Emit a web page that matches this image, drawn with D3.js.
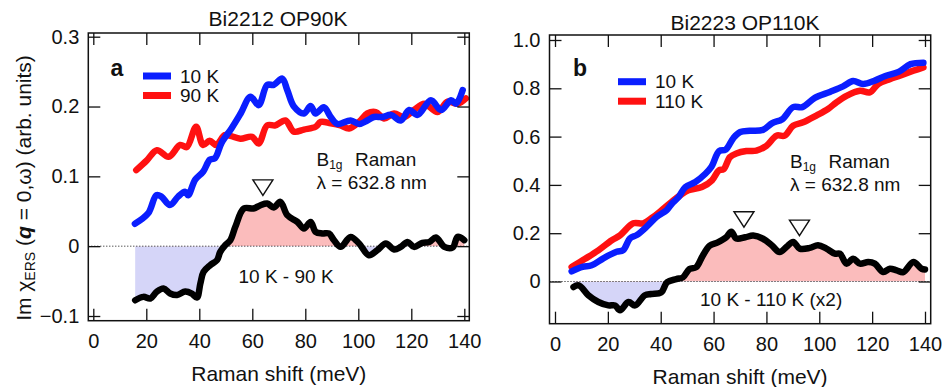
<!DOCTYPE html>
<html>
<head>
<meta charset="utf-8">
<script src="https://cdn.jsdelivr.net/npm/d3@7/dist/d3.min.js"></script>
<style>
  body { margin: 0; background: #fff; }
  svg text { font-family: 'Liberation Sans', Arial, Helvetica, sans-serif; fill: #111; }
</style>
</head>
<body>
<svg id="chart" width="944" height="387"></svg>
<script>
//  values

// panel a : Bi2212 OP90K
const aBlueX = [15.7, 20.7, 23.8, 25.7, 28.9, 32, 34.6, 35.8, 38.4, 41.5, 44, 45.9, 48.4, 52.2, 55.6, 59.3, 62.4, 65.6, 68.1, 71.3, 73.2, 75.7, 79.5, 82, 83.9, 87, 89.6, 92.1, 97.1, 100.3, 103.4, 105.9, 109.1, 112.3, 116, 119.2, 122.4, 127.4, 131.2, 135, 136.9, 139.4];
const aBlueY = [0.032, 0.047, 0.073, 0.071, 0.059, 0.071, 0.078, 0.073, 0.095, 0.107, 0.124, 0.126, 0.148, 0.169, 0.190, 0.214, 0.202, 0.231, 0.231, 0.240, 0.2235, 0.2, 0.19, 0.2006, 0.19, 0.199, 0.185, 0.175, 0.18, 0.175, 0.18, 0.185, 0.185, 0.188, 0.18, 0.195, 0.188, 0.209, 0.195, 0.209, 0.204, 0.2235];
const aRedX = [16.2, 20.2, 24, 28.4, 32.8, 35.3, 38.8, 41.4, 43.9, 46.4, 49.6, 51.7, 55.5, 59.9, 62.4, 65.6, 68.7, 72.5, 75.7, 79.5, 83.9, 85.8, 89.6, 93.3, 96.5, 100.3, 103.4, 106.6, 109.7, 113.5, 117.3, 121, 124.9, 129.9, 133.7, 137.5, 140.6];
const aRedY = [0.109, 0.123, 0.1375, 0.128, 0.145, 0.142, 0.171, 0.145, 0.151, 0.145, 0.159, 0.158, 0.154, 0.1566, 0.147, 0.173, 0.173, 0.18, 0.164, 0.167, 0.171, 0.178, 0.176, 0.173, 0.1686, 0.178, 0.19, 0.192, 0.183, 0.19, 0.185, 0.195, 0.204, 0.192, 0.207, 0.204, 0.2116];
const aDiffX = [15.8, 18.9, 21.5, 24, 26.5, 29, 31.6, 34.7, 37.2, 39.1, 40.4, 41.6, 44.1, 46.7, 47.9, 49.8, 51.7, 53.6, 56.8, 60.5, 63.1, 65.6, 68.1, 70.6, 73.2, 77, 79.5, 82, 83.9, 86.4, 88.9, 90.8, 93.3, 97.1, 100.3, 104, 107.2, 110.4, 113.5, 116, 118.6, 121, 124.2, 126.8, 129.3, 132.5, 135.6, 137.5, 140];
const aDiffY = [-0.0774, -0.0726, -0.075, -0.065, -0.0606, -0.0678, -0.070, -0.065, -0.068, -0.0735, -0.0535, -0.0368, -0.0272, -0.02, -0.0082, 0.0014, 0.0086, 0.0277, 0.054, 0.054, 0.0587, 0.061, 0.0554, 0.0635, 0.0444, 0.0348, 0.0253, 0.0348, 0.0205, 0.0182, 0.0182, 0.0086, -0.001, 0.0133, 0.0038, -0.0129, -0.0057, 0.0038, -0.0048, -0.001, 0.006, -0.001, 0.0048, 0.006, 0.0124, -0.001, -0.0019, 0.0133, 0.0086];
const aMarkX = [64];
const aMarkY = [0.095];
const aYTicks = [-0.1, 0, 0.1, 0.2, 0.3];

// panel b : Bi2223 OP110K
const bBlueX = [6.3, 10.4, 13.9, 18.3, 23.3, 25.8, 28.4, 30.9, 34.7, 38.5, 42.3, 44.2, 46.8, 49.3, 53.1, 56.9, 59.2, 62.1, 64.6, 67.5, 70.1, 73.7, 78.7, 82.2, 86, 90.1, 93.6, 98.3, 104, 109, 112.8, 116.6, 121, 125, 130, 134.5, 139.4];
const bBlueY = [0.042, 0.061, 0.067, 0.096, 0.123, 0.13, 0.179, 0.192, 0.227, 0.268, 0.296, 0.322, 0.35, 0.391, 0.412, 0.446, 0.475, 0.54, 0.546, 0.594, 0.619, 0.624, 0.628, 0.656, 0.672, 0.722, 0.722, 0.76, 0.785, 0.808, 0.83, 0.818, 0.832, 0.851, 0.868, 0.9, 0.906];
const bRedX = [6.3, 11.4, 16.4, 21.5, 24.6, 29.6, 33.4, 36.6, 39.7, 43.5, 47.4, 50.5, 55.6, 59.4, 62, 63.8, 66.2, 68.6, 72.4, 76.2, 80, 83.8, 86.9, 90.1, 93.9, 98.9, 103.3, 106.5, 110.3, 115.4, 119.1, 122.3, 126.7, 130.5, 135.6, 139.4];
const bRedY = [0.06, 0.094, 0.129, 0.171, 0.191, 0.241, 0.241, 0.263, 0.289, 0.324, 0.357, 0.378, 0.391, 0.419, 0.46, 0.465, 0.515, 0.53, 0.54, 0.542, 0.562, 0.604, 0.604, 0.645, 0.659, 0.687, 0.714, 0.742, 0.769, 0.79, 0.783, 0.818, 0.838, 0.852, 0.873, 0.887];
const bDiffX = [7, 9, 12.6, 16.4, 20.2, 22.7, 24.6, 27.8, 30.3, 34, 36.4, 40.2, 42.4, 45.9, 48.4, 50.9, 53.4, 55.9, 58.5, 61.6, 64.8, 66.7, 68.6, 72, 75, 78.7, 82, 85, 87.6, 90.1, 92.6, 96.4, 99.5, 102.7, 105.9, 107.8, 110.3, 112.8, 115.4, 118.5, 121, 124.2, 126.7, 129.3, 131.8, 135.6, 138.7, 140];
const bDiffY = [-0.023, -0.016, -0.057, -0.085, -0.099, -0.099, -0.119, -0.085, -0.099, -0.057, -0.052, -0.045, -0.003, 0.01, 0.017, 0.052, 0.059, 0.107, 0.148, 0.162, 0.183, 0.206, 0.178, 0.183, 0.19, 0.177, 0.15, 0.122, 0.143, 0.164, 0.136, 0.139, 0.15, 0.136, 0.115, 0.115, 0.074, 0.094, 0.074, 0.081, 0.074, 0.039, 0.053, 0.046, 0.039, 0.081, 0.053, 0.05];
const bMarkX = [71.5, 92.5];
const bMarkY = [0.289, 0.254];
const bYTicks = [0, 0.2, 0.4, 0.6, 0.8, 1.0];

const xTicks = [0, 20, 40, 60, 80, 100, 120, 140];

//  colours
const blue = '#0a1eff';
const red = '#ff1111';
const pink = '#fbbcbc';
const lavender = '#d5d5f8';

const svg = d3.select('#chart');
svg.append('rect').attr('width', 944).attr('height', 387).attr('fill', '#fff');

// zip two arrays into points
const zip = (xs, ys) => xs.map((v, i) => [v, ys[i]]);

/**
 * draws one panel of the figure
 * @param {Object} p - layout and data of the panel
 */
function drawPanel (p) {
  const x = d3.scaleLinear().domain([0, 140]).range(p.xRange);
  const y = d3.scaleLinear().domain(p.yDomain).range(p.yRange);
  const g = svg.append('g');

  const line = d3.line()
    .x(d => x(d[0]))
    .y(d => y(d[1]))
    .curve(d3.curveCatmullRom.alpha(0.5));

  const area = d3.area()
    .x(d => x(d[0]))
    .y0(y(0))
    .y1(d => y(d[1]))
    .curve(d3.curveCatmullRom.alpha(0.5));

  // clip the difference fill above and below the zero line
  const defs = g.append('defs');
  defs.append('clipPath').attr('id', p.id + '-up')
    .append('rect')
      .attr('x', p.frame.left).attr('y', p.frame.top)
      .attr('width', p.frame.right - p.frame.left)
      .attr('height', y(0) - p.frame.top);
  defs.append('clipPath').attr('id', p.id + '-down')
    .append('rect')
      .attr('x', p.frame.left).attr('y', y(0))
      .attr('width', p.frame.right - p.frame.left)
      .attr('height', p.frame.bottom - y(0));

  const diff = zip(p.diffX, p.diffY);
  g.append('path').datum(diff)
    .attr('d', area)
    .attr('fill', pink)
    .attr('clip-path', `url(#${p.id}-up)`);
  g.append('path').datum(diff)
    .attr('d', area)
    .attr('fill', lavender)
    .attr('clip-path', `url(#${p.id}-down)`);

  // dotted zero line
  g.append('line')
    .attr('x1', p.frame.left).attr('x2', p.frame.right)
    .attr('y1', y(0)).attr('y2', y(0))
    .attr('stroke', '#111')
    .attr('stroke-width', 1)
    .attr('stroke-dasharray', '1,2');

  // spectra
  const series = [
    { pts: zip(p.redX, p.redY), color: red },
    { pts: zip(p.blueX, p.blueY), color: blue },
    { pts: diff, color: '#000' }
  ];
  series.forEach(s => {
    g.append('path').datum(s.pts)
      .attr('d', line)
      .attr('fill', 'none')
      .attr('stroke', s.color)
      .attr('stroke-width', 6.5)
      .attr('stroke-linejoin', 'round')
      .attr('stroke-linecap', 'round');
  });

  // axes with inside ticks on all four sides
  const fmt = d => d === 0 ? '0' : d3.format('.1f')(d);
  const axes = g.append('g').attr('class', 'axes');
  axes.append('g')
    .attr('transform', `translate(0,${p.frame.bottom})`)
    .call(d3.axisBottom(x).tickValues(xTicks).tickSize(-12).tickPadding(13).tickFormat(d3.format('d')));
  axes.append('g')
    .attr('transform', `translate(0,${p.frame.top})`)
    .call(d3.axisTop(x).tickValues(xTicks).tickSize(-12).tickFormat(''));
  axes.append('g')
    .attr('transform', `translate(${p.frame.left},0)`)
    .call(d3.axisLeft(y).tickValues(p.yTicks).tickSize(-12).tickPadding(9).tickFormat(fmt));
  axes.append('g')
    .attr('transform', `translate(${p.frame.right},0)`)
    .call(d3.axisRight(y).tickValues(p.yTicks).tickSize(-12).tickFormat(''));
  axes.selectAll('.domain').remove();
  axes.selectAll('.tick line').attr('stroke', '#111').attr('stroke-width', 1.3);
  axes.selectAll('.tick text')
    .attr('fill', '#111')
    .style('font-size', '20px')
    .style('font-family', "'Liberation Sans', Arial, sans-serif");

  // frame
  g.append('rect')
    .attr('x', p.frame.left).attr('y', p.frame.top)
    .attr('width', p.frame.right - p.frame.left)
    .attr('height', p.frame.bottom - p.frame.top)
    .attr('fill', 'none')
    .attr('stroke', '#111')
    .attr('stroke-width', 1.5);

  // open triangles marking the peaks
  p.markX.forEach((m, i) => {
    const cx = x(m);
    const top = y(p.markY[i]);
    g.append('path')
      .attr('d', `M${cx - 10},${top}L${cx + 10},${top}L${cx},${top + 15.5}Z`)
      .attr('fill', 'none')
      .attr('stroke', '#111')
      .attr('stroke-width', 1.4)
      .attr('stroke-linejoin', 'miter');
  });

  // title and x label
  g.append('text')
    .attr('x', p.titlePos[0]).attr('y', p.titlePos[1])
    .attr('text-anchor', 'middle')
    .style('font-size', '21px')
    .text(p.title);
  g.append('text')
    .attr('x', (p.frame.left + p.frame.right) / 2).attr('y', p.xLabelY)
    .attr('text-anchor', 'middle')
    .style('font-size', '21px')
    .text('Raman shift (meV)');

  // panel letter
  g.append('text')
    .attr('x', p.letterPos[0]).attr('y', p.letterPos[1])
    .style('font-size', '23px')
    .style('font-weight', 'bold')
    .text(p.letter);

  // legend
  p.legend.forEach((l, i) => {
    const ly = p.legendPos[1] + i * 19.5;
    g.append('line')
      .attr('x1', p.legendPos[0]).attr('x2', p.legendPos[0] + 28)
      .attr('y1', ly).attr('y2', ly)
      .attr('stroke', l.color)
      .attr('stroke-width', 7);
    g.append('text')
      .attr('x', p.legendPos[0] + 37).attr('y', ly + 6.5)
      .style('font-size', '19px')
      .text(l.label);
  });

  // B1g Raman note, one text element with a subscript
  const note = g.append('text')
    .attr('x', p.notePos[0]).attr('y', p.notePos[1])
    .style('font-size', '19px');
  note.append('tspan').text('B');
  note.append('tspan').attr('dy', 3).style('font-size', '12px').text('1g');
  note.append('tspan').attr('x', p.notePos[0] + 38.5).attr('dy', -3).text('Raman');
  g.append('text')
    .attr('x', p.notePos[0]).attr('y', p.notePos[1] + 23)
    .style('font-size', '19px')
    .text('\u03bb = 632.8 nm');

  // difference label
  g.append('text')
    .attr('x', p.diffLabelPos[0]).attr('y', p.diffLabelPos[1])
    .style('font-size', '19px')
    .text(p.diffLabel);
}

drawPanel({
  id: 'pa',
  xRange: [93.3, 464.3],
  yDomain: [-0.1, 0.3],
  yRange: [316, 36.7],
  yTicks: aYTicks,
  frame: { left: 88.3, right: 469.3, top: 33, bottom: 320.7 },
  blueX: aBlueX, blueY: aBlueY,
  redX: aRedX, redY: aRedY,
  diffX: aDiffX, diffY: aDiffY,
  markX: aMarkX, markY: aMarkY,
  title: 'Bi2212 OP90K',
  titlePos: [278, 26],
  xLabelY: 381,
  letter: 'a',
  letterPos: [110.5, 76],
  legend: [{ label: '10 K', color: blue }, { label: '90 K', color: red }],
  legendPos: [143, 76],
  notePos: [316.5, 166],
  diffLabel: '10 K - 90 K',
  diffLabelPos: [238.5, 283.3]
});

drawPanel({
  id: 'pb',
  xRange: [555, 925],
  yDomain: [0, 1],
  yRange: [281.5, 40],
  yTicks: bYTicks,
  frame: { left: 549.5, right: 930.7, top: 35, bottom: 323.7 },
  blueX: bBlueX, blueY: bBlueY,
  redX: bRedX, redY: bRedY,
  diffX: bDiffX, diffY: bDiffY,
  markX: bMarkX, markY: bMarkY,
  title: 'Bi2223 OP110K',
  titlePos: [745, 30],
  xLabelY: 383.5,
  letter: 'b',
  letterPos: [573, 76],
  legend: [{ label: '10 K', color: blue }, { label: '110 K', color: red }],
  legendPos: [618, 81.7],
  notePos: [790, 167.5],
  diffLabel: '10 K - 110 K (x2)',
  diffLabelPos: [700, 305.5]
});

// y axis label of panel a
const yLab = svg.append('text')
  .attr('transform', 'translate(31,188) rotate(-90)')
  .attr('text-anchor', 'middle')
  .style('font-size', '21px');
yLab.append('tspan').text('Im \u03c7');
yLab.append('tspan').attr('dy', 4).style('font-size', '14px').text('ERS');
yLab.append('tspan').attr('dy', -4).text(' (');
yLab.append('tspan').style('font-weight', 'bold').style('font-style', 'italic').text('q');
yLab.append('tspan').text(' = 0,\u03c9) (arb. units)');
</script>
</body>
</html>
